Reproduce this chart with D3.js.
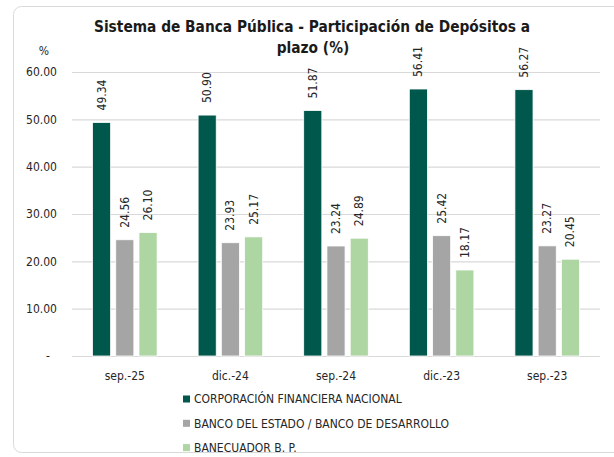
<!DOCTYPE html>
<html>
<head>
<meta charset="utf-8">
<script src="https://cdn.jsdelivr.net/npm/d3@7"></script>
<style>
  html, body { margin: 0; padding: 0; background: #fff; }
</style>
</head>
<body>
<script>
const width = 614;
const height = 457;

const categories = ["sep.-25", "dic.-24", "sep.-24", "dic.-23", "sep.-23"];
const seriesNames = [
  "CORPORACIÓN FINANCIERA NACIONAL",
  "BANCO DEL ESTADO / BANCO DE DESARROLLO",
  "BANECUADOR B. P."
];
const cfn = [49.34, 50.90, 51.87, 56.41, 56.27];
const bde = [24.56, 23.93, 23.24, 25.42, 23.27];
const bnc = [26.10, 25.17, 24.89, 18.17, 20.45];
const yTicks = [0, 10, 20, 30, 40, 50, 60];
const colors = ["#00574b", "#a5a5a5", "#aed6a2"];

const values = [cfn, bde, bnc];
const font = "'DejaVu Sans Condensed', 'DejaVu Sans', sans-serif";

const svg = d3.select("body").append("svg")
    .attr("width", width)
    .attr("height", height);

// outer frame
svg.append("rect")
    .attr("x", 13.5)
    .attr("y", 6.5)
    .attr("width", 700)
    .attr("height", 446)
    .attr("rx", 8)
    .attr("fill", "white")
    .attr("stroke", "#d9d9d9");

const x0 = d3.scaleBand()
    .domain(categories)
    .range([72, 600]);

const x1 = d3.scaleBand()
    .domain(seriesNames)
    .range([0, 64.6])
    .paddingInner(0.22);

const y = d3.scaleLinear()
    .domain([0, 60])
    .range([356, 72]);

// gridlines
svg.append("g")
  .selectAll("line")
  .data(yTicks)
  .join("line")
    .attr("x1", 72)
    .attr("x2", 600)
    .attr("y1", d => y(d) + 0.5)
    .attr("y2", d => y(d) + 0.5)
    .attr("stroke", "#d9d9d9")
    .attr("stroke-width", 1.2);

// y tick labels
svg.append("g")
  .selectAll("text")
  .data(yTicks)
  .join("text")
    .attr("x", d => d === 0 ? 50 : 57)
    .attr("y", d => y(d))
    .attr("dy", "0.35em")
    .attr("text-anchor", "end")
    .attr("font-family", font)
    .attr("font-size", 12)
    .attr("fill", "#262626")
    .text(d => d === 0 ? "-" : d3.format(".2f")(d));

svg.append("text")
    .attr("x", 44)
    .attr("y", 55)
    .attr("text-anchor", "middle")
    .attr("font-family", font)
    .attr("font-size", 12)
    .attr("fill", "#262626")
    .text("%");

// bars
const groups = svg.append("g")
  .selectAll("g")
  .data(categories)
  .join("g")
    .attr("transform", d => `translate(${x0(d) + (x0.bandwidth() - 64.6) / 2},0)`);

const cells = groups.selectAll("g")
  .data((c, i) => seriesNames.map((s, j) => ({ s: s, j: j, v: values[j][i] })))
  .join("g");

cells.append("rect")
    .attr("x", d => x1(d.s))
    .attr("y", d => y(d.v))
    .attr("width", x1.bandwidth())
    .attr("height", d => y(0) - y(d.v))
    .attr("fill", d => colors[d.j])
    .attr("stroke", "white")
    .attr("stroke-width", 0.8);

cells.append("text")
    .attr("transform", d => `translate(${x1(d.s) + x1.bandwidth() / 2 + 4},${y(d.v) - 12}) rotate(-90)`)
    .attr("font-family", font)
    .attr("font-size", 12)
    .attr("fill", "#262626")
    .text(d => d3.format(".2f")(d.v));

// x labels
svg.append("g")
  .selectAll("text")
  .data(categories)
  .join("text")
    .attr("x", d => x0(d) + x0.bandwidth() / 2)
    .attr("y", 380)
    .attr("text-anchor", "middle")
    .attr("font-family", font)
    .attr("font-size", 12)
    .attr("fill", "#262626")
    .text(d => d);

// legend
const legend = svg.append("g")
  .selectAll("g")
  .data(seriesNames)
  .join("g")
    .attr("transform", (d, i) => `translate(183,${399 + i * 24.3})`);

legend.append("rect")
    .attr("x", 0)
    .attr("y", -3.5)
    .attr("width", 7)
    .attr("height", 7)
    .attr("fill", (d, i) => colors[i]);

legend.append("text")
    .attr("x", 11)
    .attr("dy", "0.35em")
    .attr("font-family", font)
    .attr("font-size", 12)
    .attr("fill", "#262626")
    .text(d => d);

// title
const title = svg.append("text")
    .attr("text-anchor", "middle")
    .attr("font-family", font)
    .attr("font-size", 15.3)
    .attr("font-weight", "bold")
    .attr("fill", "#1a1a1a");

title.append("tspan")
    .attr("x", 312)
    .attr("y", 32)
    .text("Sistema de Banca Pública - Participación de Depósitos a");

title.append("tspan")
    .attr("x", 313)
    .attr("y", 53)
    .text("plazo (%)");
</script>
</body>
</html>
